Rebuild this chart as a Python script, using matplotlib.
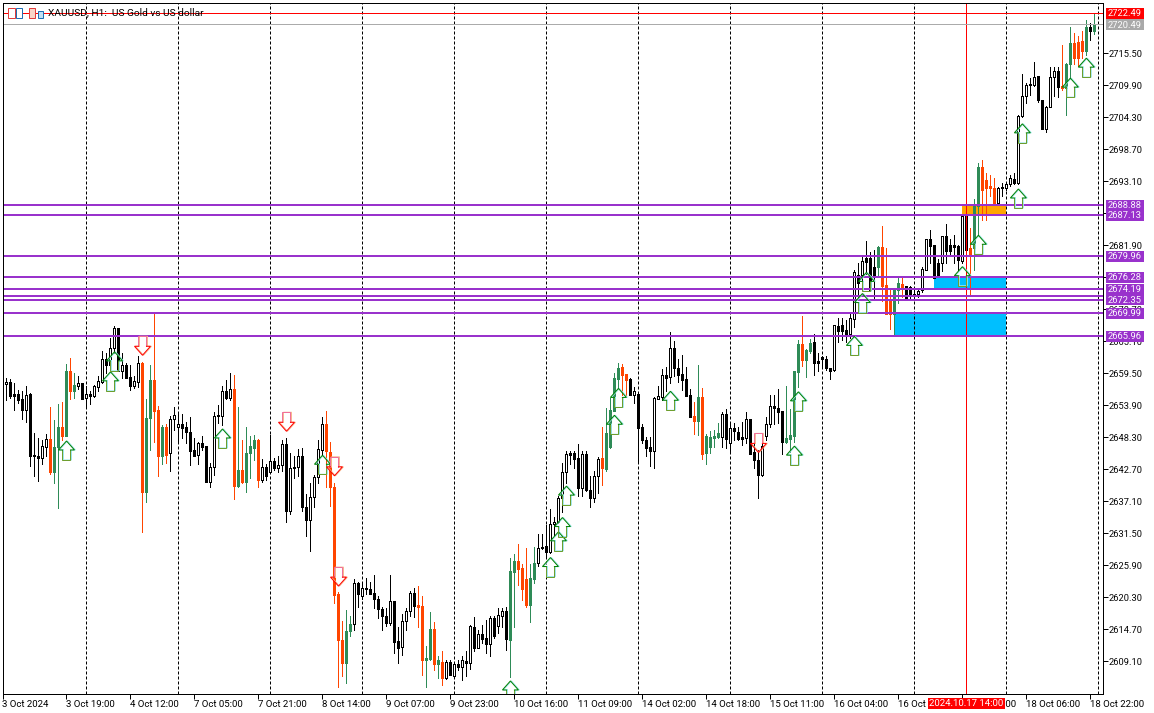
import matplotlib
matplotlib.use('Agg')
import matplotlib.pyplot as plt
from matplotlib.patches import Rectangle
from matplotlib.transforms import ScaledTranslation

plt.rcParams['font.family'] = 'Roboto'
plt.rcParams['text.hinting'] = 'native'

# H1 bars
opens = [2660.1, 2657.6, 2658.0, 2655.8, 2655.8, 2654.9, 2653.0, 2655.8, 2645.2, 2645.0,
         2644.7, 2646.6, 2648.0, 2642.1, 2646.5, 2650.0, 2648.5, 2659.9, 2656.4, 2657.3,
         2657.7, 2655.2, 2655.8, 2655.5, 2657.1, 2658.0, 2661.9, 2660.9, 2663.9, 2667.4,
         2659.9, 2660.9, 2658.8, 2657.2, 2658.0, 2661.2, 2638.6, 2651.7, 2658.3, 2653.0,
         2645.0, 2650.1, 2645.5, 2651.4, 2650.0, 2650.6, 2650.1, 2649.2, 2646.0, 2645.1,
         2647.2, 2646.7, 2640.5, 2643.0, 2652.2, 2652.0, 2656.4, 2655.1, 2656.7, 2639.8,
         2642.6, 2640.5, 2645.5, 2646.4, 2647.8, 2640.7, 2643.0, 2642.1, 2644.1, 2642.9,
         2643.4, 2647.1, 2635.4, 2643.0, 2643.0, 2645.0, 2636.1, 2633.7, 2637.8, 2641.3,
         2646.1, 2650.5, 2645.7, 2639.5, 2620.8, 2612.8, 2608.8, 2614.3, 2615.5, 2622.8,
         2620.4, 2621.8, 2621.7, 2621.0, 2619.9, 2618.2, 2617.0, 2615.7, 2619.6, 2612.6,
         2611.5, 2616.1, 2617.8, 2621.0, 2618.9, 2618.7, 2609.3, 2609.5, 2614.7, 2608.5,
         2609.0, 2606.2, 2609.0, 2606.5, 2608.6, 2608.1, 2609.1, 2608.8, 2615.1, 2611.4,
         2613.9, 2613.2, 2612.1, 2616.7, 2615.3, 2616.9, 2617.8, 2612.8, 2624.7, 2626.6,
         2625.4, 2623.5, 2618.9, 2623.5, 2626.2, 2629.1, 2629.3, 2628.1, 2633.1, 2633.5,
         2637.6, 2642.1, 2645.5, 2645.5, 2644.6, 2639.3, 2645.3, 2639.1, 2637.7, 2641.4,
         2644.7, 2642.7, 2646.6, 2652.9, 2658.5, 2660.5, 2659.4, 2658.4, 2655.7, 2655.9,
         2650.0, 2647.8, 2646.5, 2645.9, 2655.0, 2655.3, 2659.2, 2658.8, 2663.8, 2660.4,
         2659.4, 2658.5, 2655.6, 2651.9, 2651.1, 2655.3, 2645.5, 2646.6, 2648.2, 2648.3,
         2648.3, 2652.3, 2647.3, 2649.9, 2649.2, 2648.3, 2648.2, 2651.5, 2645.7, 2644.3,
         2641.6, 2648.4, 2650.5, 2653.8, 2653.3, 2652.9, 2647.5, 2648.0, 2648.4, 2659.6,
         2664.6, 2661.7, 2663.4, 2665.0, 2661.6, 2662.3, 2662.0, 2660.3, 2660.0, 2667.8,
         2667.9, 2667.0, 2666.4, 2669.0, 2676.6, 2676.6, 2679.7, 2679.7, 2678.1, 2678.1,
         2681.6, 2674.9, 2672.1, 2669.9, 2674.0, 2675.1, 2674.7, 2674.6, 2673.0, 2673.3,
         2674.0, 2677.6, 2683.0, 2681.9, 2678.7, 2678.7, 2683.5, 2681.9, 2681.9, 2681.7,
         2679.1, 2687.0, 2681.3, 2681.3, 2688.7, 2695.6, 2693.3, 2692.2, 2691.8, 2689.2,
         2692.1, 2691.8, 2692.5, 2693.5, 2692.7, 2704.4, 2707.9, 2710.1, 2709.9, 2711.4,
         2707.2, 2702.2, 2706.1, 2711.3, 2712.3, 2709.8, 2709.3, 2713.5, 2717.3, 2717.5,
         2717.6, 2715.8, 2720.0, 2719.4]
highs = [2660.2, 2658.6, 2658.4, 2657.8, 2656.5, 2656.4, 2657.2, 2656.0, 2649.0, 2648.1,
         2647.8, 2648.9, 2653.5, 2651.3, 2654.1, 2654.4, 2661.1, 2662.1, 2659.5, 2659.0,
         2657.8, 2657.2, 2656.3, 2657.4, 2658.9, 2663.4, 2663.0, 2665.6, 2667.7, 2667.4,
         2663.0, 2661.2, 2660.9, 2658.9, 2662.5, 2661.5, 2654.9, 2660.9, 2670.0, 2653.8,
         2650.4, 2650.6, 2651.9, 2653.5, 2652.3, 2652.3, 2651.0, 2651.8, 2648.1, 2647.5,
         2648.4, 2646.7, 2643.7, 2652.6, 2653.9, 2657.2, 2658.3, 2659.5, 2659.2, 2653.6,
         2647.7, 2650.0, 2648.4, 2648.7, 2647.9, 2644.4, 2643.5, 2648.7, 2644.6, 2644.9,
         2647.7, 2648.1, 2645.5, 2644.9, 2646.2, 2646.3, 2638.3, 2640.2, 2641.7, 2647.8,
         2651.8, 2652.8, 2647.4, 2640.2, 2621.1, 2616.1, 2618.0, 2617.0, 2623.4, 2623.0,
         2622.8, 2623.6, 2623.0, 2624.1, 2620.4, 2618.6, 2618.3, 2624.1, 2619.6, 2615.1,
         2617.3, 2618.4, 2621.3, 2621.8, 2622.2, 2620.5, 2611.7, 2617.7, 2616.0, 2609.9,
         2610.9, 2609.3, 2609.2, 2608.8, 2609.3, 2609.9, 2610.8, 2615.4, 2616.8, 2614.5,
         2615.4, 2616.3, 2616.9, 2616.9, 2618.3, 2618.3, 2618.6, 2627.1, 2627.9, 2629.6,
         2626.1, 2628.9, 2626.1, 2629.1, 2631.4, 2631.4, 2632.9, 2635.7, 2634.3, 2637.9,
         2643.7, 2645.9, 2645.9, 2645.9, 2647.1, 2645.8, 2645.8, 2641.4, 2642.4, 2644.8,
         2650.0, 2653.3, 2655.1, 2659.5, 2661.3, 2661.1, 2659.4, 2658.6, 2657.1, 2655.9,
         2650.6, 2648.3, 2648.3, 2655.3, 2657.2, 2660.2, 2660.6, 2666.7, 2665.1, 2661.9,
         2662.7, 2660.5, 2656.7, 2654.5, 2660.9, 2656.8, 2648.9, 2649.4, 2649.6, 2650.7,
         2652.6, 2653.2, 2650.6, 2650.8, 2650.1, 2651.0, 2652.6, 2651.5, 2648.7, 2646.0,
         2649.0, 2651.8, 2655.7, 2655.7, 2656.7, 2652.9, 2657.2, 2653.2, 2659.8, 2665.2,
         2669.4, 2663.7, 2665.5, 2666.4, 2663.0, 2662.5, 2662.4, 2660.3, 2667.9, 2669.1,
         2669.1, 2668.8, 2670.2, 2677.5, 2678.7, 2679.8, 2682.6, 2680.7, 2681.0, 2681.7,
         2685.2, 2681.3, 2674.0, 2674.0, 2676.1, 2676.1, 2674.7, 2674.7, 2674.0, 2674.3,
         2678.0, 2682.9, 2684.6, 2681.9, 2679.5, 2683.5, 2685.6, 2683.0, 2683.6, 2681.9,
         2687.0, 2688.6, 2684.8, 2689.9, 2696.2, 2696.7, 2694.5, 2694.2, 2693.6, 2692.1,
         2692.7, 2693.0, 2694.2, 2694.5, 2704.7, 2711.9, 2710.2, 2711.1, 2714.0, 2711.5,
         2707.3, 2706.2, 2713.1, 2713.1, 2713.1, 2716.9, 2713.7, 2720.0, 2719.0, 2718.5,
         2719.4, 2721.2, 2720.7, 2722.5]
lows = [2657.3, 2654.8, 2655.2, 2653.0, 2654.2, 2651.4, 2651.0, 2643.2, 2641.5, 2640.6,
        2643.6, 2644.9, 2641.8, 2640.2, 2635.8, 2647.7, 2648.4, 2654.9, 2655.1, 2656.7,
        2655.0, 2653.6, 2654.1, 2655.3, 2656.3, 2657.8, 2659.5, 2660.6, 2663.0, 2659.8,
        2658.6, 2658.6, 2656.6, 2656.8, 2657.0, 2631.7, 2637.0, 2646.0, 2647.5, 2641.5,
        2643.6, 2643.8, 2642.4, 2649.6, 2647.5, 2648.1, 2647.2, 2643.4, 2645.0, 2643.6,
        2646.0, 2640.5, 2639.5, 2641.7, 2650.7, 2650.4, 2655.0, 2654.8, 2637.4, 2639.6,
        2640.3, 2638.7, 2641.1, 2644.3, 2639.5, 2640.5, 2640.7, 2642.0, 2642.6, 2642.1,
        2642.3, 2633.5, 2634.9, 2641.1, 2641.4, 2635.4, 2630.9, 2628.3, 2636.0, 2640.2,
        2645.2, 2639.5, 2636.2, 2619.3, 2604.5, 2606.4, 2605.3, 2613.5, 2614.5, 2618.6,
        2620.0, 2620.8, 2620.8, 2618.4, 2616.7, 2614.5, 2615.3, 2615.4, 2610.5, 2608.8,
        2610.2, 2614.5, 2616.9, 2616.8, 2615.1, 2606.7, 2604.6, 2609.2, 2607.5, 2606.2,
        2604.9, 2605.9, 2606.6, 2606.4, 2607.5, 2605.7, 2606.5, 2607.7, 2610.9, 2611.3,
        2612.2, 2610.5, 2610.0, 2613.1, 2614.0, 2615.1, 2611.0, 2606.3, 2615.1, 2622.4,
        2619.8, 2618.5, 2616.0, 2622.8, 2625.8, 2628.7, 2627.4, 2628.0, 2631.2, 2633.2,
        2635.1, 2640.2, 2643.6, 2642.9, 2637.9, 2638.0, 2638.8, 2636.0, 2636.9, 2638.5,
        2639.9, 2642.4, 2646.4, 2652.9, 2656.8, 2655.7, 2655.7, 2655.6, 2654.2, 2644.1,
        2647.3, 2644.9, 2643.3, 2642.9, 2654.9, 2654.8, 2656.4, 2657.8, 2658.9, 2657.9,
        2656.6, 2655.4, 2651.8, 2648.9, 2648.7, 2644.5, 2643.6, 2645.5, 2646.6, 2648.1,
        2646.6, 2646.4, 2645.9, 2647.8, 2647.8, 2646.9, 2647.2, 2645.3, 2642.9, 2637.7,
        2641.4, 2647.7, 2650.1, 2650.6, 2650.7, 2645.4, 2647.3, 2645.6, 2647.5, 2657.1,
        2660.8, 2658.8, 2663.0, 2659.2, 2659.9, 2660.3, 2660.0, 2658.5, 2659.9, 2665.0,
        2665.3, 2665.0, 2665.6, 2667.6, 2672.8, 2674.0, 2676.8, 2674.0, 2672.3, 2676.5,
        2672.1, 2669.8, 2667.2, 2666.2, 2671.7, 2672.8, 2672.5, 2672.5, 2672.5, 2672.8,
        2673.7, 2677.5, 2678.7, 2676.1, 2676.3, 2677.4, 2678.7, 2680.1, 2678.7, 2677.5,
        2678.7, 2681.0, 2673.1, 2677.5, 2683.6, 2686.3, 2686.3, 2690.4, 2689.1, 2689.1,
        2690.4, 2691.6, 2692.2, 2692.6, 2692.6, 2704.3, 2706.7, 2708.2, 2709.8, 2707.0,
        2702.2, 2701.6, 2706.0, 2707.9, 2707.8, 2709.0, 2704.7, 2711.1, 2713.6, 2713.3,
        2714.6, 2715.2, 2717.8, 2718.8]
closes = [2657.4, 2658.0, 2655.5, 2655.5, 2654.8, 2653.0, 2655.6, 2645.0, 2644.9, 2644.7,
          2646.7, 2648.0, 2642.1, 2646.5, 2650.0, 2648.5, 2659.9, 2656.4, 2657.4, 2657.7,
          2655.0, 2655.8, 2655.5, 2657.2, 2658.1, 2661.9, 2660.9, 2663.9, 2667.4, 2659.9,
          2660.9, 2658.6, 2657.2, 2658.1, 2661.2, 2638.6, 2651.7, 2658.3, 2652.9, 2645.0,
          2650.1, 2645.2, 2651.5, 2652.1, 2650.6, 2649.9, 2649.1, 2645.9, 2645.0, 2647.2,
          2646.6, 2640.5, 2643.1, 2651.9, 2651.9, 2656.3, 2655.1, 2656.7, 2639.8, 2642.6,
          2640.5, 2645.5, 2646.8, 2647.8, 2640.7, 2643.1, 2641.4, 2644.1, 2642.9, 2643.4,
          2647.1, 2635.4, 2642.8, 2642.8, 2644.9, 2636.1, 2633.7, 2637.8, 2641.3, 2646.2,
          2650.5, 2645.8, 2639.5, 2620.7, 2612.7, 2608.8, 2614.4, 2615.6, 2622.7, 2620.9,
          2621.8, 2621.7, 2620.9, 2619.9, 2618.2, 2616.9, 2615.8, 2619.6, 2612.5, 2611.4,
          2616.1, 2617.8, 2621.0, 2618.8, 2618.6, 2609.3, 2609.6, 2614.7, 2608.5, 2609.2,
          2606.2, 2608.9, 2606.7, 2608.6, 2608.1, 2609.2, 2608.8, 2615.2, 2611.4, 2613.9,
          2613.0, 2612.1, 2616.7, 2613.5, 2617.2, 2617.8, 2612.9, 2624.8, 2626.6, 2625.2,
          2621.7, 2618.9, 2623.6, 2626.2, 2628.8, 2628.8, 2628.1, 2633.1, 2633.5, 2637.6,
          2642.1, 2645.3, 2645.2, 2644.5, 2639.3, 2645.3, 2639.0, 2637.7, 2641.5, 2644.5,
          2642.8, 2649.0, 2653.1, 2658.7, 2660.4, 2659.2, 2658.3, 2655.7, 2656.4, 2649.9,
          2647.8, 2646.4, 2645.9, 2655.1, 2655.5, 2659.1, 2658.7, 2663.8, 2660.3, 2659.2,
          2658.3, 2655.5, 2651.8, 2651.1, 2655.3, 2645.4, 2648.4, 2648.3, 2648.4, 2649.0,
          2652.3, 2648.0, 2649.9, 2649.3, 2648.0, 2648.0, 2651.4, 2645.4, 2644.2, 2641.7,
          2646.8, 2650.6, 2653.8, 2653.3, 2652.7, 2647.5, 2648.2, 2648.6, 2659.8, 2664.6,
          2661.7, 2663.5, 2664.8, 2661.3, 2661.3, 2661.9, 2660.3, 2659.9, 2667.9, 2666.9,
          2666.9, 2666.4, 2669.2, 2677.1, 2675.2, 2679.1, 2679.0, 2674.0, 2676.5, 2681.6,
          2674.8, 2669.8, 2669.8, 2674.0, 2675.2, 2674.5, 2672.5, 2673.4, 2673.4, 2673.9,
          2677.7, 2682.9, 2681.7, 2676.1, 2676.3, 2683.5, 2680.9, 2680.9, 2681.6, 2679.3,
          2687.0, 2681.0, 2680.3, 2688.7, 2695.6, 2691.6, 2691.8, 2691.8, 2689.2, 2691.9,
          2691.8, 2692.5, 2693.6, 2692.7, 2704.4, 2708.0, 2709.9, 2709.9, 2711.3, 2707.2,
          2702.2, 2706.1, 2711.3, 2712.3, 2709.6, 2709.3, 2713.6, 2717.3, 2714.6, 2714.6,
          2715.8, 2720.0, 2719.4, 2720.6]

# bars the indicator paints
green_bars = [13, 14, 16, 18, 36, 37, 40, 59, 61, 62, 63, 86, 87, 106, 107, 109, 127, 128,
              132, 133, 151, 152, 153, 154, 174, 176, 177, 178, 179, 196, 197, 198, 199,
              201, 202, 219, 223, 224, 243, 244, 266, 267, 271, 273]
red_bars = [12, 15, 17, 35, 38, 39, 41, 58, 60, 64, 81, 82, 83, 84, 85, 104, 105, 108, 110,
            129, 130, 131, 150, 155, 156, 173, 175, 200, 220, 221, 222, 225, 242, 245, 246,
            247, 248, 265, 268, 269, 270]

# signal arrows: bar index, price at the tip
up_arrows = [(16, 2647.6), (27, 2659.7), (28, 2663.2), (55, 2649.7), (80, 2645.1), (127, 2605.6),
             (137, 2627.2), (139, 2631.7), (140, 2634.2), (141, 2639.7), (153, 2652.1),
             (154, 2656.8), (167, 2656.3), (198, 2646.7), (199, 2656.2), (213, 2665.9),
             (215, 2673.4), (216, 2677.1), (240, 2678.1), (244, 2683.6), (254, 2691.7),
             (255, 2703.1), (267, 2711.1), (271, 2714.6)]
down_arrows = [(35, 2662.6), (71, 2649.3), (83, 2641.5), (84, 2622.2), (189, 2645.6)]

levels = [2688.88, 2687.13, 2679.96, 2676.28, 2674.19, 2672.98, 2672.35, 2669.99, 2665.96]
level_labels = ['2688.88', '2687.13', '2679.96', '2676.28', '2674.19', '', '2672.35', '2669.99', '2665.96']

# zones: first bar, last bar, top price, bottom price
orange_zones = [(240, 251, 2688.88, 2687.13)]
blue_zones = [(233, 251, 2676.28, 2674.19), (223, 251, 2669.99, 2665.96)]

price_ticks = [2715.50, 2709.90, 2704.30, 2698.70, 2693.10, 2687.50, 2681.90, 2676.30, 2670.70,
               2665.10, 2659.50, 2653.90, 2648.30, 2642.70, 2637.10, 2631.50, 2625.90, 2620.30,
               2614.70, 2609.10]
time_labels = ['3 Oct 2024', '3 Oct 19:00', '4 Oct 12:00', '7 Oct 05:00', '7 Oct 21:00', '8 Oct 14:00',
               '9 Oct 07:00', '9 Oct 23:00', '10 Oct 16:00', '11 Oct 09:00', '14 Oct 02:00',
               '14 Oct 18:00', '15 Oct 11:00', '16 Oct 04:00', '16 Oct 20:00', '17 Oct 13:00',
               '18 Oct 06:00', '18 Oct 22:00']
time_ticks = [i * 16 for i in range(len(time_labels))]
day_separators = [21, 44, 67, 90, 113, 136, 159, 182, 205, 228, 251, 274]

ask_price = 2722.49
bid_price = 2720.49
cursor_bar = 241
cursor_label = '2024.10.17 14:00'

W, H = 1154, 713
PX = 0.72  # one pixel in points at dpi 100
GREEN = '#2E8B57'
RED = '#FF4500'
PURPLE = '#9932CC'

fig = plt.figure(figsize=(W / 100, H / 100), dpi=100)
left, right, top, bottom = 2.5, 1102.5, 2.5, 693.5
ax = fig.add_axes([left / W, 1 - bottom / H, (right - left) / W, (bottom - top) / H])
dx = 0.25          # one pixel in bars
dy = 1 / 5.714     # one pixel in price

# zones
for a, b, hi, lo in orange_zones:
    ax.add_patch(Rectangle((a, lo), b - a, hi - lo, fc='#FFA500', ec='none', zorder=1))
for a, b, hi, lo in blue_zones:
    ax.add_patch(Rectangle((a, lo), b - a, hi - lo, fc='#00BFFF', ec='none', zorder=1))

for s in day_separators:
    ax.axvline(s, color='black', lw=PX, ls=(0, (3, 2)), zorder=2)

# candles
xs = list(range(len(opens)))
fills, edges = [], []
for i in xs:
    if i in green_bars:
        fills.append(GREEN)
        edges.append(GREEN)
    elif i in red_bars:
        fills.append(RED)
        edges.append(RED)
    else:
        fills.append('white' if closes[i] >= opens[i] else 'black')
        edges.append('black')
ax.vlines(xs, lows, highs, colors=edges, lw=PX, zorder=3, antialiased=False)
body_low = [min(o, c) for o, c in zip(opens, closes)]
body_h = [abs(c - o) for o, c in zip(opens, closes)]
ax.bar(xs, body_h, bottom=body_low, width=0.5, color=fills, edgecolor=edges, linewidth=PX,
       zorder=4, antialiased=False)

ax.axvline(cursor_bar, color='#FF0000', lw=PX, zorder=5)
ax.axhline(ask_price, color='#FF0000', lw=PX, zorder=7)
ax.axhline(bid_price, color='#ABABAB', lw=PX, zorder=5)
for p in levels:
    ax.axhline(p, color=PURPLE, lw=2 * PX, zorder=6)


def draw_arrow(i, tip, sign, head_color, shaft_color, halo_color):
    # sign +1 up, -1 down; the tip is the pointed end
    head = [(-4, 9), (-8, 9), (0, 0), (8, 9), (4, 9)]
    shaft = [(4, 9), (4, 19), (-4, 19), (-4, 9)]
    for pts, col, off, z in [(head + shaft, halo_color, 1, 8), (shaft, shaft_color, 0, 9), (head, head_color, 0, 9)]:
        ax.plot([i + (a + off) * dx for a, b in pts], [tip - sign * b * dy for a, b in pts],
                color=col, lw=PX, zorder=z, solid_joinstyle='miter')


for i, p in up_arrows:
    draw_arrow(i, p, 1, '#008000', '#6E9E2E', '#9BE6EE')
for i, p in down_arrows:
    draw_arrow(i, p, -1, '#FF0000', '#F0709A', '#F7B58A')

# axes and ticks
for sp in ax.spines.values():
    sp.set_linewidth(PX)
    sp.set_color('black')
    sp.set_zorder(10)
ax.yaxis.tick_right()
ax.set_yticks(price_ticks)
ax.set_yticklabels(['%.2f' % p for p in price_ticks])
ax.set_xticks(time_ticks)
ax.set_xticklabels(time_labels, ha='left')
ax.tick_params(axis='x', length=3.6, width=PX, labelsize=6.9, pad=0.3, color='black')
ax.tick_params(axis='y', length=3.6, width=PX, labelsize=6.7, pad=1, color='black')
ax.set_xlim(0, (right - 2.33) / 4)
ax.set_ylim(2724.775 - bottom / 5.714, 2724.775 - top / 5.714)

# nudge price labels one pixel down
nudge = ScaledTranslation(0, -1 / 100, fig.dpi_scale_trans)
for lab in ax.get_yticklabels():
    lab.set_transform(lab.get_transform() + nudge)


def label_box(price, text, face, color='white'):
    yp = (2724.775 - price) * 5.714
    h = 11
    fig.patches.append(Rectangle((1105.5 / W, 1 - (yp + h / 2) / H), 38.5 / W, h / H, fc=face, ec='none',
                                 transform=fig.transFigure, zorder=20))
    if text:
        fig.text(1108 / W, 1 - (yp + 0.8) / H, text, color=color, fontsize=6.7, va='center', ha='left', zorder=21)


for p, t in zip(levels, level_labels):
    label_box(p, t, PURPLE)
label_box(ask_price, '%.2f' % ask_price, '#FF0000')
label_box(bid_price, '%.2f' % bid_price, '#A9A9A9')

# crosshair time box
fig.patches.append(Rectangle((927.5 / W, 1 - 708.5 / H), 77.5 / W, 10.5 / H, fc='#FF0000', ec='none',
                             transform=fig.transFigure, zorder=20))
fig.text(966 / W, 1 - 703.2 / H, cursor_label, color='white', fontsize=6.9, va='center', ha='center', zorder=21)

# title and the two small terminal icons
fig.text(48.5 / W, 1 - 13.5 / H, 'XAUUSD, H1:  US Gold vs US dollar', color='black', fontsize=7.25,
         va='center', ha='left', zorder=3)


def icon(x0, y0, w, h, edge, face='white'):
    fig.patches.append(Rectangle((x0 / W, 1 - (y0 + h) / H), w / W, h / H, fc=face, ec=edge, lw=PX,
                                 transform=fig.transFigure, zorder=3))


icon(7.5, 8.5, 7, 9, '#E03C3C')
icon(15.5, 8.5, 6, 9, '#1F6FB5')
icon(28.5, 8.5, 6, 9, '#E03C3C', '#F9D5C8')
icon(37.5, 11.5, 5, 6, '#1F6FB5', '#BFE0F5')

fig.savefig('out.png', dpi=100)
